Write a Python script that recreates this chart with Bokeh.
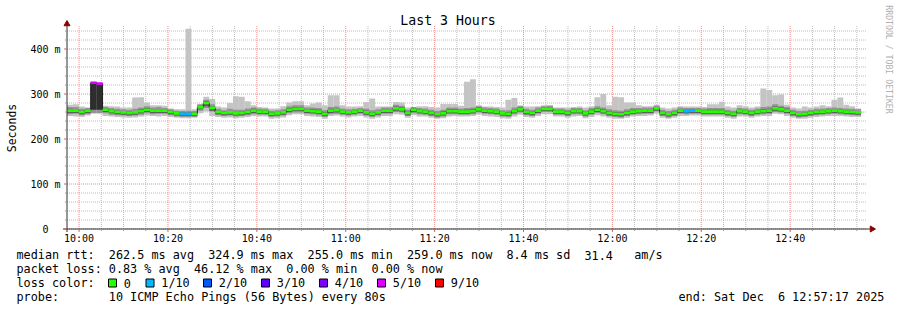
import numpy as np
from bokeh.plotting import figure
from bokeh.embed import file_html
from bokeh.resources import INLINE
from bokeh.core.properties import value
from bokeh.models import ColumnDataSource, Range1d

# ---------------- data ----------------
start_time = "09:57:17"
step_sec = 80
span_min = 180

median_ms = [263,263,260,263,325,323,265,262,260,259,
             258,259,262,265,263,263,263,260,257,256,
             256,256,271,280,269,260,258,259,257,258,
             260,263,261,261,256,257,259,265,267,267,
             263,262,261,256,263,264,261,259,261,263,
             259,256,259,263,263,268,266,258,265,262,
             261,258,255,257,262,262,261,261,262,266,
             263,262,261,257,256,262,266,260,258,263,
             267,267,261,261,258,262,262,257,261,265,
             262,258,256,255,258,261,262,263,263,268,
             258,255,258,263,262,263,263,261,261,261,
             261,258,256,262,261,258,261,262,263,268,
             266,263,258,255,256,258,260,261,262,263,
             262,261,260,259]

loss_tenths = [0,0,0,0,5,5,0,0,0,0,
               0,0,0,0,0,0,0,0,0,1,
               1,0,0,0,0,0,0,0,0,0,
               0,0,0,0,0,0,0,0,0,0,
               0,0,0,0,0,0,0,0,0,0,
               0,0,0,0,0,0,0,0,0,0,
               0,0,0,0,0,0,0,0,0,0,
               0,0,0,0,0,0,0,0,0,0,
               0,0,0,0,0,0,0,0,0,0,
               0,0,0,0,0,0,0,0,0,0,
               0,0,0,0,1,1,0,0,0,0,
               0,0,0,0,0,0,0,0,0,0,
               0,0,0,0,0,0,0,0,0,0,
               0,0,0,0]

ping_max = [276,277,272,270,327,325,274,273,272,270,
            270,292,293,281,275,275,274,268,266,266,
            445,266,276,294,289,272,270,280,295,294,
            284,275,271,270,268,268,273,281,284,284,
            275,279,281,275,297,297,275,272,272,273,
            282,290,272,272,272,282,281,270,271,273,
            273,271,270,278,278,278,274,327,333,275,
            272,272,271,270,287,291,275,272,272,273,
            275,275,270,270,270,271,272,270,273,293,
            300,275,294,293,281,281,275,273,273,276,
            270,268,270,273,272,272,272,271,277,277,
            283,272,270,275,273,270,272,312,309,297,
            299,276,270,268,272,270,272,275,273,287,
            292,276,273,268]

ping_min = [251,250,249,252,256,256,251,250,249,248,
            247,248,250,252,251,250,251,249,247,246,
            246,247,257,261,251,249,247,248,246,247,
            249,251,250,250,245,246,248,253,255,255,
            251,250,249,245,251,252,250,248,250,251,
            248,245,248,251,251,255,254,247,253,250,
            250,247,245,246,250,251,250,250,251,254,
            251,250,249,246,245,250,254,249,247,251,
            255,255,250,250,247,250,251,246,249,253,
            250,247,245,245,247,250,251,251,252,256,
            247,245,247,251,251,252,252,250,250,250,
            250,247,245,250,250,247,250,251,251,256,
            255,251,247,245,245,247,249,250,251,251,
            251,250,249,249]

smoke_mid_lo = [255,256,253,255,258,258,257,254,253,252,
                251,252,254,257,255,256,256,253,250,249,
                249,249,263,269,261,253,251,252,250,251,
                253,255,254,254,249,250,252,257,259,259,
                256,255,253,249,255,256,254,252,254,256,
                252,249,252,256,256,260,259,251,257,255,
                254,251,248,250,255,255,254,254,255,259,
                256,255,254,250,249,255,259,253,251,256,
                260,260,254,254,251,255,255,250,254,258,
                255,251,249,248,251,254,255,256,256,261,
                251,248,251,256,255,256,256,254,254,254,
                254,251,249,255,254,251,254,255,256,260,
                259,256,251,248,249,251,253,254,255,256,
                255,254,253,252]

smoke_mid_hi = [271,271,267,269,325,323,271,269,267,266,
                265,267,270,273,270,271,269,266,263,262,
                263,262,277,287,277,267,264,267,265,265,
                268,270,268,267,263,264,266,273,275,275,
                270,270,269,264,271,272,268,266,267,269,
                267,264,266,270,270,276,274,265,271,269,
                268,265,262,265,270,270,268,269,270,273,
                270,269,268,264,264,270,273,267,265,270,
                273,274,268,268,265,269,269,264,269,273,
                270,266,264,263,266,269,269,270,270,274,
                265,262,265,270,269,269,269,268,269,269,
                269,265,263,269,268,265,268,271,272,277,
                274,271,265,262,263,265,267,268,269,270,
                269,268,267,266]

smoke_core_lo = [258,258,255,258,265,265,260,257,255,254,
                 253,254,257,260,258,258,258,255,252,251,
                 251,251,266,273,263,255,253,254,252,253,
                 255,258,256,256,251,252,254,260,262,262,
                 258,257,256,251,258,259,256,254,256,258,
                 254,251,254,258,258,263,261,253,260,257,
                 256,253,250,252,257,257,256,256,257,261,
                 258,257,256,252,251,257,261,255,253,258,
                 262,262,256,256,253,257,257,252,256,260,
                 257,253,251,250,253,256,257,258,258,263,
                 253,250,253,258,257,258,258,256,256,256,
                 256,253,251,257,256,253,256,257,258,263,
                 261,258,253,250,251,253,255,256,257,258,
                 257,256,255,254]

smoke_core_hi = [267,266,263,266,325,323,268,265,263,262,
                 261,262,266,269,266,266,266,263,260,259,
                 259,259,274,284,273,263,261,262,260,261,
                 263,267,264,264,259,260,262,269,271,270,
                 266,266,265,260,267,267,264,262,264,266,
                 263,259,262,266,266,272,270,261,268,265,
                 264,261,258,261,266,266,264,265,266,270,
                 266,265,264,260,260,265,270,263,261,266,
                 270,270,264,264,261,265,265,260,265,269,
                 266,262,260,259,262,265,265,266,266,271,
                 261,258,261,266,265,266,266,264,265,265,
                 265,261,259,265,264,261,264,266,267,272,
                 270,267,261,258,259,261,263,264,265,266,
                 265,264,263,262]

time_tick_labels = ["10:00", "10:20", "10:40", "11:00", "11:20",
                    "11:40", "12:00", "12:20", "12:40"]
minor_time_step = 5
y_ticks = [0, 100, 200, 300, 400]
y_tick_labels = ["0", "100 m", "200 m", "300 m", "400 m"]
y_minor_step = 20
y_grid_top = 440

loss_levels = [0, 1, 2, 3, 4, 5, 9]
loss_labels = ["0", "1/10", "2/10", "3/10", "4/10", "5/10", "9/10"]
loss_colors = ["#26ff00", "#00b8ff", "#0059ff", "#5e00ff", "#7e00ff", "#dd00ff", "#ff0000"]

title_text = "Last 3 Hours"
y_label = "Seconds"
stats_rtt = ["median rtt:", "262.5 ms avg", "324.9 ms max", "255.0 ms min",
             "259.0 ms now", "8.4 ms sd", "31.4", "am/s"]
stats_rtt_cols = [0, 13, 27, 41, 55, 69, 80, 87]
stats_loss = ["packet loss:", "0.83 % avg", "46.12 % max", "0.00 % min", "0.00 % now"]
stats_loss_cols = [0, 13, 25, 38, 50]
probe_text = "10 ICMP Echo Pings (56 Bytes) every 80s"
end_text = ["end: Sat Dec", "6 12:57:17 2025"]
credit = "RRDTOOL / TOBI OETIKER"

# ---------------- layout (canvas pixels) ----------------
W, H = 897, 310
PX_L, PX_R, PY_B, PY_T = 66.5, 866.5, 228.5, 25.5   # pixel-centre aligned
MIN_PER_PX = span_min / (PX_R - PX_L)
MS_PER_PX = 1 / 0.45


def X(px):
    return (px - PX_L) * MIN_PER_PX


def Y(py):
    return (PY_B - py) * MS_PER_PX


def to_min(hhmm):
    h, m = [int(v) for v in hhmm.split(":")[:2]]
    sh, sm, ss = [int(v) for v in start_time.split(":")]
    return (h * 3600 + m * 60 - (sh * 3600 + sm * 60 + ss)) / 60.0


FONT = value("DejaVu Sans Mono")

p = figure(width=W, height=H, output_backend="svg", toolbar_location=None,
           x_range=Range1d(X(0), X(W)), y_range=Range1d(Y(H), Y(0)),
           x_axis_location=None, y_axis_location=None, min_border=0)
p.outline_line_color = None
p.background_fill_color = "#ffffff"
p.border_fill_color = "#ffffff"
p.xgrid.visible = False
p.ygrid.visible = False

# ---------------- grid ----------------
major_t = [to_min(s) for s in time_tick_labels]
minor_t = []
t = major_t[0]
while t < span_min:
    minor_t.append(t)
    t += minor_time_step
minor_t_only = [v for v in minor_t if all(abs(v - m) > 1e-6 for m in major_t)]

y_minor = [v for v in range(y_minor_step, y_grid_top + 1, y_minor_step) if v not in y_ticks]

grid_gray = "#bcbcbc"
grid_red = "#f08c8c"
top_v = Y(PY_T)
p.segment(x0=minor_t_only, x1=minor_t_only, y0=[0] * len(minor_t_only), y1=[top_v] * len(minor_t_only),
          line_color=grid_gray, line_dash="1 1", line_width=1)
p.segment(x0=[0] * len(y_minor), x1=[span_min] * len(y_minor), y0=y_minor, y1=y_minor,
          line_color=grid_gray, line_dash="1 1", line_width=1)
p.segment(x0=major_t, x1=major_t, y0=[0] * len(major_t), y1=[top_v] * len(major_t),
          line_color=grid_red, line_dash="1 1", line_width=1)
p.segment(x0=[0] * len(y_ticks), x1=[span_min] * len(y_ticks), y0=y_ticks, y1=y_ticks,
          line_color=grid_red, line_dash="1 1", line_width=1)

# ---------------- smoke ----------------
n = len(median_ms)
bw = step_sec / 60.0
left = np.arange(n) * bw
right = left + bw
core_col = ["#2e2e2e" if l >= 5 else "#5e5e5e" for l in loss_tenths]
src = ColumnDataSource(dict(left=left, right=right, lo=ping_min, hi=ping_max,
                            mlo=smoke_mid_lo, mhi=smoke_mid_hi,
                            clo=smoke_core_lo, chi=smoke_core_hi, ccol=core_col))
p.quad(left="left", right="right", bottom="lo", top="hi", source=src,
       fill_color="#c4c4c4", line_color=None)
p.quad(left="left", right="right", bottom="mlo", top="mhi", source=src,
       fill_color="#949494", line_color=None)
p.quad(left="left", right="right", bottom="clo", top="chi", source=src,
       fill_color="ccol", line_color=None)

# median line
edges = list(left) + [right[-1]]
p.step(x=edges, y=list(median_ms) + [median_ms[-1]], mode="after",
       line_color="#202020", line_width=1)
band = 3.0
col_map = dict(zip(loss_levels, loss_colors))
med_col = [col_map.get(l, "#26ff00") for l in loss_tenths]
msrc = ColumnDataSource(dict(left=left, right=right,
                             b=np.array(median_ms) - band, t=np.array(median_ms) + band, c=med_col))
p.quad(left="left", right="right", bottom="b", top="t", fill_color="c", line_color=None, source=msrc)

# ---------------- axes ----------------
axis_col = "#303030"
arrow_col = "#8b0000"
p.segment(x0=[0], x1=[0], y0=[Y(PY_B + 3)], y1=[Y(PY_T - 2)], line_color=axis_col, line_width=1)
p.segment(x0=[X(PX_L - 4)], x1=[X(PX_R + 3)], y0=[0], y1=[0], line_color=axis_col, line_width=1)
p.scatter(x=[0], y=[Y(PY_T - 2)], marker="triangle", size=6,
          fill_color=arrow_col, line_color=arrow_col)
p.scatter(x=[X(PX_R + 5)], y=[0], marker="triangle", size=6, angle=-np.pi / 2,
          fill_color=arrow_col, line_color=arrow_col)

# ticks
p.segment(x0=minor_t_only, x1=minor_t_only, y0=[0] * len(minor_t_only), y1=[Y(PY_B + 2)] * len(minor_t_only),
          line_color="#999999")
p.segment(x0=major_t, x1=major_t, y0=[0] * len(major_t), y1=[Y(PY_B + 3)] * len(major_t),
          line_color="#d06060")
p.segment(x0=[X(PX_L - 2)] * len(y_minor), x1=[0] * len(y_minor), y0=y_minor, y1=y_minor, line_color="#999999")
p.segment(x0=[X(PX_L - 3)] * len(y_ticks), x1=[0] * len(y_ticks), y0=y_ticks, y1=y_ticks, line_color="#d06060")

# tick labels
p.text(x=major_t, y=[Y(237.5)] * len(major_t), text=time_tick_labels, text_font=FONT,
       text_font_size="10px", text_align="center", text_baseline="middle", text_color="#000000")
ylab_x = [X(60) if " m" in s else X(48) for s in y_tick_labels]
p.text(x=ylab_x, y=y_ticks, text=y_tick_labels, text_font=FONT, text_font_size="10px",
       text_align="right", text_baseline="middle", text_color="#000000")


def txt(px, py, s, size="11.8px", align="left", baseline="middle", color="#000000", angle=0.0):
    p.text(x=[X(px)], y=[Y(py)], text=[s], text_font=FONT, text_font_size=size,
           text_align=align, text_baseline=baseline, text_color=color, angle=angle)


txt(447.5, 19.5, title_text, size="13.2px", align="center")
txt(11, 127.5, y_label, size="11.5px", align="center", angle=np.pi / 2)
txt(888, 59, credit, size="8.2px", align="center", color="#b0b0b0", angle=-np.pi / 2)

CH = 7.1
LX = 16
ROWS = [254.5, 268.5, 282.5, 296.5]
for s, c in zip(stats_rtt, stats_rtt_cols):
    txt(LX + c * CH, ROWS[0], s)
for s, c in zip(stats_loss, stats_loss_cols):
    txt(LX + c * CH, ROWS[1], s)
txt(LX, ROWS[2], "loss color:")
box_px = [112, 149.5, 207, 265, 323, 381, 439]
for bx, lab, colr in zip(box_px, loss_labels, loss_colors):
    p.scatter(x=[X(bx)], y=[Y(ROWS[2])], marker="square", size=8, fill_color=colr, line_color="#000000")
    txt(bx + 11.3, ROWS[2], lab)
txt(LX, ROWS[3], "probe:")
txt(LX + 13 * CH, ROWS[3], probe_text)
txt(678, ROWS[3], end_text[0])
txt(678 + 14 * CH, ROWS[3], end_text[1])

open("out.html", "w").write(file_html(p, INLINE))
